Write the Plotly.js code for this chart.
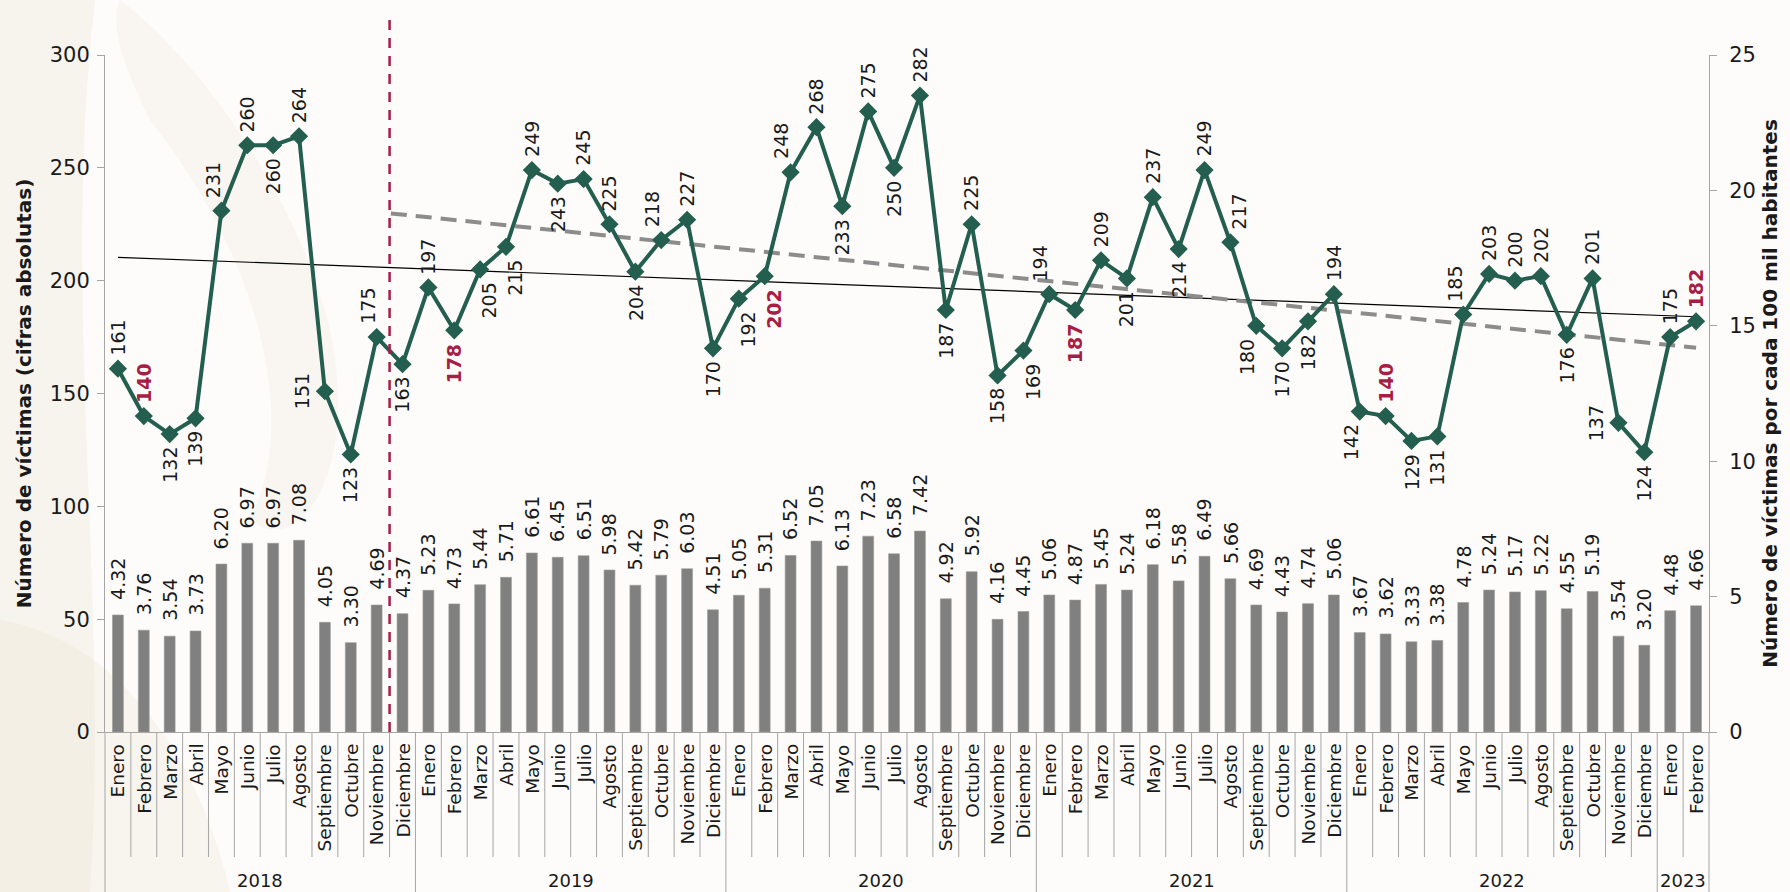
<!DOCTYPE html>
<html>
<head>
<meta charset="utf-8">
<script src="https://cdn.plot.ly/plotly-3.0.1.min.js"></script>
<style>
html,body{margin:0;padding:0;background:#ffffff;}
#chart{width:1790px;height:892px;}
</style>
</head>
<body>
<div id="chart"></div>
<script>
// ---------------- DATA ----------------
const months = [
 'Enero','Febrero','Marzo','Abril','Mayo','Junio','Julio','Agosto','Septiembre','Octubre','Noviembre','Diciembre',
 'Enero','Febrero','Marzo','Abril','Mayo','Junio','Julio','Agosto','Septiembre','Octubre','Noviembre','Diciembre',
 'Enero','Febrero','Marzo','Abril','Mayo','Junio','Julio','Agosto','Septiembre','Octubre','Noviembre','Diciembre',
 'Enero','Febrero','Marzo','Abril','Mayo','Junio','Julio','Agosto','Septiembre','Octubre','Noviembre','Diciembre',
 'Enero','Febrero','Marzo','Abril','Mayo','Junio','Julio','Agosto','Septiembre','Octubre','Noviembre','Diciembre',
 'Enero','Febrero'
];
const years = [
 '2018','2018','2018','2018','2018','2018','2018','2018','2018','2018','2018','2018',
 '2019','2019','2019','2019','2019','2019','2019','2019','2019','2019','2019','2019',
 '2020','2020','2020','2020','2020','2020','2020','2020','2020','2020','2020','2020',
 '2021','2021','2021','2021','2021','2021','2021','2021','2021','2021','2021','2021',
 '2022','2022','2022','2022','2022','2022','2022','2022','2022','2022','2022','2022',
 '2023','2023'
];
// Número de víctimas (cifras absolutas)
const victims = [
 161,140,132,139,231,260,260,264,151,123,175,163,
 197,178,205,215,249,243,245,225,204,218,227,170,
 192,202,248,268,233,275,250,282,187,225,158,169,
 194,187,209,201,237,214,249,217,180,170,182,194,
 142,140,129,131,185,203,200,202,176,201,137,124,
 175,182
];
// Número de víctimas por cada 100 mil habitantes
const rates = [
 4.32,3.76,3.54,3.73,6.20,6.97,6.97,7.08,4.05,3.30,4.69,4.37,
 5.23,4.73,5.44,5.71,6.61,6.45,6.51,5.98,5.42,5.79,6.03,4.51,
 5.05,5.31,6.52,7.05,6.13,7.23,6.58,7.42,4.92,5.92,4.16,4.45,
 5.06,4.87,5.45,5.24,6.18,5.58,6.49,5.66,4.69,4.43,4.74,5.06,
 3.67,3.62,3.33,3.38,4.78,5.24,5.17,5.22,4.55,5.19,3.54,3.20,
 4.48,4.66
];
// label placement for the line values (a=above, b=below, l=left; suffix l/r = nudge)
const labelPos = [
 'a','a','b','b','al','a','b','a','l','b','al','b',
 'a','b','br','br','a','b','a','a','b','al','a','b',
 'br','br','al','a','b','a','b','a','b','a','b','br',
 'al','b','a','b','a','b','a','ar','bl','b','b','a',
 'bl','a','b','b','al','a','a','a','b','a','l','b',
 'a','a'
];
const highlightMonth = 'Febrero';
const periodStartIndex = 11; // Diciembre 2018

// ---------------- STYLE ----------------
const FONT = 'DejaVu Sans, sans-serif';
const GREEN = '#235E4E';
const RED = '#A71D45';
const BAR = '#808080';
const AXIS = '#A6A6A6';
const TXT = '#1a1a1a';
const W = 1790, HT = 892, ML = 105, MR = 81, MT = 55, MB = 160;
const PW = W - ML - MR, PH = HT - MT - MB;
const px = x => (x - ML) / PW;          // pixel -> paper x
const py = y => (HT - MB - y) / PH;     // pixel -> paper y

const idx = months.map((_, i) => i);

function linfit(xs, ys) {
  const n = xs.length;
  const mx = xs.reduce((a, b) => a + b, 0) / n;
  const my = ys.reduce((a, b) => a + b, 0) / n;
  let sxy = 0, sxx = 0;
  for (let i = 0; i < n; i++) { sxy += (xs[i] - mx) * (ys[i] - my); sxx += (xs[i] - mx) ** 2; }
  const m = sxy / sxx;
  return x => my + m * (x - mx);
}
const fitAll = linfit(idx, victims);
const subX = idx.slice(periodStartIndex), subY = victims.slice(periodStartIndex);
const fitSub = linfit(subX, subY);
const last = idx[idx.length - 1];
const dashStart = periodStartIndex - 0.45;

const traces = [
  {
    type: 'bar', x: idx, y: rates, yaxis: 'y2', width: 0.42,
    marker: { color: BAR, line: { color: '#9a9a9a', width: 0.6 } },
    hoverinfo: 'skip'
  },
  {
    type: 'scatter', mode: 'lines', x: [0, last], y: [fitAll(0), fitAll(last)],
    line: { color: '#000000', width: 1.2 }, hoverinfo: 'skip'
  },
  {
    type: 'scatter', mode: 'lines', x: [dashStart, last], y: [fitSub(dashStart), fitSub(last)],
    line: { color: '#8C8C8C', width: 4, dash: '16px,9px' }, hoverinfo: 'skip'
  },
  {
    type: 'scatter', mode: 'lines+markers', x: idx, y: victims,
    line: { color: GREEN, width: 4 },
    marker: { symbol: 'diamond', size: 14, color: GREEN },
    hoverinfo: 'skip'
  }
];

const annotations = [];
// line value labels
victims.forEach((v, i) => {
  const p = labelPos[i];
  const hl = months[i] === highlightMonth;
  const a = {
    x: i, y: v, xref: 'x', yref: 'y', text: hl ? '<b>' + v + '</b>' : String(v),
    showarrow: false, textangle: -90,
    font: { family: FONT, size: 19, color: hl ? RED : TXT },
    xanchor: 'center', yanchor: 'middle', xshift: 0, yshift: 0
  };
  if (p[0] === 'a') { a.yanchor = 'bottom'; a.yshift = 11; }
  else if (p[0] === 'b') { a.yanchor = 'top'; a.yshift = -11; }
  else if (p[0] === 'l') { a.xanchor = 'right'; a.xshift = -10; }
  if (p[1] === 'l') a.xshift = -9;
  if (p[1] === 'r') a.xshift = 9;
  annotations.push(a);
});
// bar value labels
rates.forEach((r, i) => {
  annotations.push({
    x: i, y: r, xref: 'x', yref: 'y2', text: r.toFixed(2),
    showarrow: false, textangle: -90, xanchor: 'center', yanchor: 'bottom', yshift: 13,
    font: { family: FONT, size: 19, color: TXT }
  });
});
// month (category) labels
months.forEach((m, i) => {
  annotations.push({
    x: i, y: py(742), xref: 'x', yref: 'paper', text: m,
    showarrow: false, textangle: -90, xanchor: 'center', yanchor: 'top',
    font: { family: FONT, size: 18.5, color: TXT }
  });
});

// year group labels and separators
const shapes = [];
const sepBottom = py(857);
const fullBottom = py(HT);
const groups = [];
years.forEach((y, i) => {
  if (!groups.length || groups[groups.length - 1].year !== y) groups.push({ year: y, start: i, end: i });
  else groups[groups.length - 1].end = i;
});
groups.forEach(g => {
  annotations.push({
    x: (g.start + g.end) / 2, y: py(880), xref: 'x', yref: 'paper',
    text: g.year, showarrow: false, xanchor: 'center', yanchor: 'middle',
    font: { family: FONT, size: 18, color: TXT }
  });
});
for (let i = 0; i < idx.length - 1; i++) {
  const yearBreak = years[i] !== years[i + 1];
  shapes.push({
    type: 'line', xref: 'x', yref: 'paper', x0: i + 0.5, x1: i + 0.5, y0: 0, y1: yearBreak ? fullBottom : sepBottom,
    line: { color: AXIS, width: 1 }
  });
}
[0, 1].forEach(p => shapes.push({
  type: 'line', xref: 'paper', yref: 'paper', x0: p, x1: p, y0: 0, y1: fullBottom,
  line: { color: AXIS, width: 1 }
}));
// start of period marker
shapes.push({
  type: 'line', xref: 'x', yref: 'paper', x0: periodStartIndex - 0.5, x1: periodStartIndex - 0.5,
  y0: 0, y1: py(13), line: { color: RED, width: 2.5, dash: '10px,8px' }
});

// faint ornamental background (decorative)
function bgPath(pts, fill) {
  let d = 'M' + px(pts[0][0]) + ',' + py(pts[0][1]);
  for (let i = 1; i < pts.length; i += 3) {
    d += ' C' + [pts[i], pts[i + 1], pts[i + 2]].map(q => px(q[0]) + ',' + py(q[1])).join(' ');
  }
  return { type: 'path', xref: 'paper', yref: 'paper', path: d + ' Z', fillcolor: fill, line: { width: 0 }, layer: 'below' };
}
shapes.unshift(
  bgPath([[0,0],[40,0],[80,0],[95,0],[60,300],[110,600],[90,892],[60,892],[30,892],[0,892],[0,600],[0,300],[0,0]], 'rgba(236,226,210,0.32)'),
  bgPath([[120,0],[200,60],[300,200],[330,330],[360,470],[300,560],[250,520],[300,420],[260,260],[150,120],[120,60],[110,20],[120,0]], 'rgba(236,226,210,0.22)'),
  bgPath([[0,620],[120,640],[200,760],[230,892],[160,892],[100,892],[0,892],[0,800],[0,700],[0,620]], 'rgba(236,226,210,0.28)')
);

const layout = {
  width: W, height: HT,
  margin: { l: ML, r: MR, t: MT, b: MB, pad: 0 },
  paper_bgcolor: '#FDFCFA', plot_bgcolor: 'rgba(0,0,0,0)',
  showlegend: false,
  font: { family: FONT, color: TXT },
  xaxis: {
    range: [-0.5, last + 0.5], showticklabels: false,
    showline: true, linecolor: AXIS, linewidth: 1, ticks: '', showgrid: false, zeroline: false,
    fixedrange: true
  },
  yaxis: {
    range: [0, 300], tickmode: 'array', tickvals: [0, 50, 100, 150, 200, 250, 300],
    ticks: 'outside', ticklen: 7, tickcolor: AXIS, showline: true, linecolor: AXIS, linewidth: 1,
    showgrid: false, zeroline: false, tickfont: { family: FONT, size: 21, color: TXT },
    ticklabelstandoff: 3,
    title: { text: 'Número de víctimas (cifras absolutas)', font: { family: FONT, size: 20, color: TXT, weight: 'bold' }, standoff: 12 },
    fixedrange: true
  },
  yaxis2: {
    range: [0, 25], overlaying: 'y', side: 'right', tickmode: 'array', tickvals: [0, 5, 10, 15, 20, 25],
    ticks: 'outside', ticklen: 7, tickcolor: AXIS, showline: true, linecolor: AXIS, linewidth: 1,
    showgrid: false, zeroline: false, tickfont: { family: FONT, size: 21, color: TXT },
    ticklabelstandoff: 8,
    title: { text: 'Número de víctimas por cada 100 mil habitantes', font: { family: FONT, size: 20, color: TXT, weight: 'bold' }, standoff: 8 },
    fixedrange: true
  },
  annotations: annotations,
  shapes: shapes
};

Plotly.newPlot('chart', traces, layout, { staticPlot: true, displayModeBar: false });
</script>
</body>
</html>
